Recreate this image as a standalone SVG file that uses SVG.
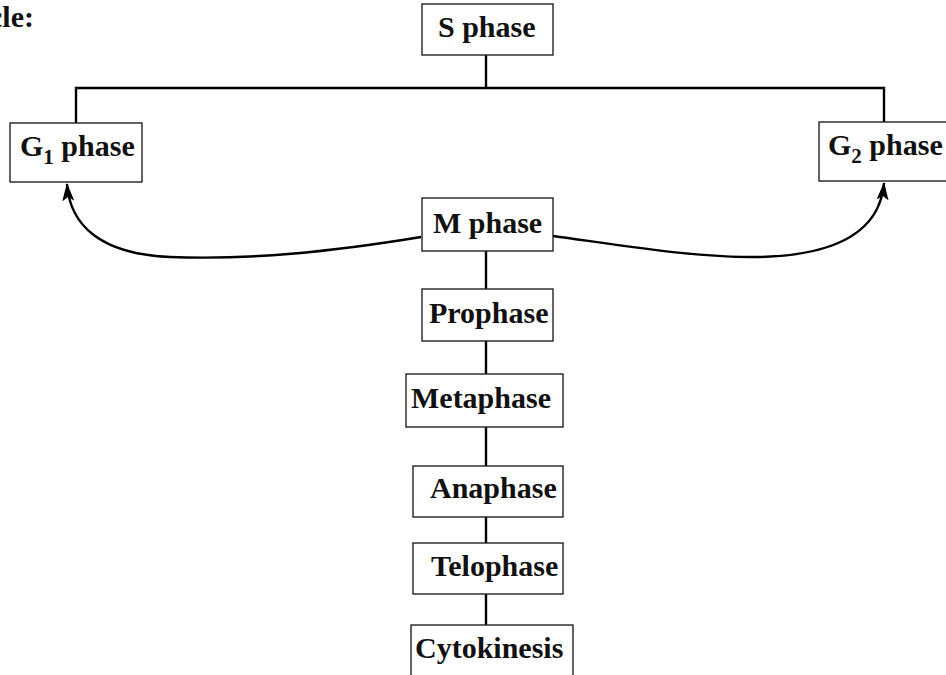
<svg xmlns="http://www.w3.org/2000/svg" width="946" height="675" viewBox="0 0 946 675">
<style>
  .box { fill: #ffffff; stroke: #222222; stroke-width: 1.4; }
  .lbl { font-family: "Liberation Serif", "Times New Roman", serif; font-weight: bold; font-size: 30px; fill: #111111; }
  .sub { font-size: 21px; }
  .wire { fill: none; stroke: #000000; stroke-width: 2.4; }
</style>
<defs>
  <marker id="arr" viewBox="0 0 18 12" refX="17" refY="6" markerWidth="18" markerHeight="12" markerUnits="userSpaceOnUse" orient="auto">
    <path d="M0,0 L18,6 L0,12 L4,6 Z" fill="#000000"/>
  </marker>
</defs>
<rect width="946" height="675" fill="#ffffff"/>
<text class="lbl" x="34" y="27" text-anchor="end" font-size="26">cle:</text>
<g id="connectors">
  <path class="wire" d="M486,55 V88"/>
  <path class="wire" d="M76,123 V88 H884 V122"/>
  <path class="wire" d="M486,251 V289"/>
  <path class="wire" d="M486,341 V374"/>
  <path class="wire" d="M486,427 V466"/>
  <path class="wire" d="M486,517 V543"/>
  <path class="wire" d="M486,594 V625"/>
  <path class="wire" d="M421,237 C330,252 250,260 170,257 C100,254 70,225 67,184" marker-end="url(#arr)"/>
  <path class="wire" d="M553,236 C640,248 700,258 760,257 C840,255 880,230 884,183" marker-end="url(#arr)"/>
</g>
<g id="s-phase">
  <rect class="box" x="422" y="4" width="131" height="51"/>
  <text class="lbl" x="438" y="37">S phase</text>
</g>
<g id="g1-phase">
  <rect class="box" x="10" y="123" width="132" height="59"/>
  <text class="lbl" x="20" y="156">G<tspan class="sub" dy="8">1</tspan><tspan dy="-8"> phase</tspan></text>
</g>
<g id="g2-phase">
  <rect class="box" x="819" y="122" width="135" height="59"/>
  <text class="lbl" x="828" y="155">G<tspan class="sub" dy="8">2</tspan><tspan dy="-8"> phase</tspan></text>
</g>
<g id="m-phase">
  <rect class="box" x="422" y="198" width="131" height="53"/>
  <text class="lbl" x="433" y="233">M phase</text>
</g>
<g id="prophase">
  <rect class="box" x="422" y="289" width="131" height="52"/>
  <text class="lbl" x="429" y="323">Prophase</text>
</g>
<g id="metaphase">
  <rect class="box" x="406" y="374" width="157" height="53"/>
  <text class="lbl" x="411" y="408">Metaphase</text>
</g>
<g id="anaphase">
  <rect class="box" x="413" y="466" width="150" height="51"/>
  <text class="lbl" x="430" y="498">Anaphase</text>
</g>
<g id="telophase">
  <rect class="box" x="413" y="543" width="150" height="51"/>
  <text class="lbl" x="431" y="576">Telophase</text>
</g>
<g id="cytokinesis">
  <rect class="box" x="411" y="625" width="162" height="60"/>
  <text class="lbl" x="415" y="658">Cytokinesis</text>
</g>
</svg>
